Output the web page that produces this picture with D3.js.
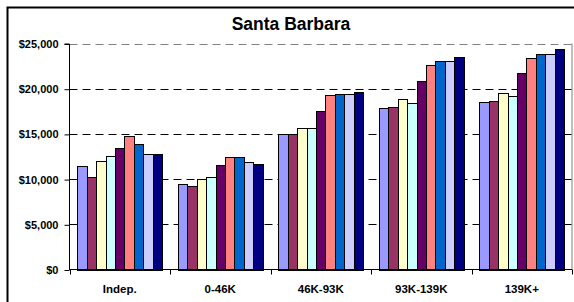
<!DOCTYPE html>
<html><head><meta charset="utf-8">
<script src="https://cdn.jsdelivr.net/npm/d3@7"></script>
<style>body{margin:0;background:#fff}svg{display:block}</style>
</head><body><svg id="c" width="574" height="302"></svg>
<script>
const categories = ["Indep.", "0-46K", "46K-93K", "93K-139K", "139K+"];
const s1 = [11500, 9450, 15020, 17860, 18530];
const s2 = [10250, 9200, 15020, 17970, 18640];
const s3 = [12000, 10000, 15620, 18830, 19490];
const s4 = [12550, 10260, 15650, 18450, 19190];
const s5 = [13400, 11520, 17530, 20850, 21740];
const s6 = [14730, 12410, 19300, 22620, 23430];
const s7 = [13920, 12410, 19380, 23030, 23870];
const s8 = [12740, 11860, 19380, 23060, 23870];
const s9 = [12740, 11640, 19670, 23500, 24390];
const seriesValues = [s1, s2, s3, s4, s5, s6, s7, s8, s9];
const colors = ["#9999FF", "#993366", "#FFFFCC", "#CCFFFF", "#660066", "#FF8080", "#0066CC", "#CCCCFF", "#000080"];
const yTicks = [0, 5000, 10000, 15000, 20000, 25000];
const title = "Santa Barbara";

const svg = d3.select("#c");
const L = 69.5, R = 572, T = 43.5, B = 269.5;

// outer border
svg.append("path").attr("d", `M7.5,302 V7.5 H574`).attr("fill", "none").attr("stroke", "#000").attr("stroke-width", 2);

svg.append("text").attr("x", 291).attr("y", 30).attr("text-anchor", "middle")
  .attr("font-family", "Liberation Sans, Arial, sans-serif").attr("font-weight", "bold").attr("font-size", 17.5)
  .text(title);

const x = d3.scaleBand().domain(categories).range([L, R]).paddingInner(0).paddingOuter(0);
const xi = d3.scaleBand().domain(d3.range(9)).range([x.bandwidth() * 0.075, x.bandwidth() * 0.925]).padding(0);
const y = d3.scaleLinear().domain([0, 25000]).range([B, T]);

// plot border right (gray)
svg.append("line").attr("x1", R).attr("x2", R).attr("y1", T).attr("y2", B).attr("stroke", "#808080").attr("stroke-width", 1);
// gridlines
yTicks.filter(d => d > 0).forEach(d => {
  svg.append("line").attr("x1", L).attr("x2", R).attr("y1", Math.round(y(d)) + 0.5).attr("y2", Math.round(y(d)) + 0.5)
    .attr("stroke", d === 25000 ? "#808080" : "#000").attr("stroke-width", 1).attr("stroke-dasharray", "8,5");
});

// bars
categories.forEach((c, ci) => {
  seriesValues.forEach((vals, si) => {
    const x0 = Math.round(x(c) + xi(si));
    const x1 = Math.round(x(c) + xi(si) + xi.bandwidth());
    const yt = Math.round(y(vals[ci]));
    svg.append("rect").attr("x", x0 + 0.5).attr("y", yt + 0.5)
      .attr("width", x1 - x0).attr("height", Math.round(y(0)) - yt)
      .attr("fill", colors[si]).attr("stroke", "#000").attr("stroke-width", 1);
  });
});

// y axis
const yAxis = d3.axisLeft(y).tickValues(yTicks).tickSize(5).tickPadding(6)
  .tickFormat(d => "$" + d3.format(",")(d));
const ga = svg.append("g").attr("transform", `translate(${L},0.5)`).call(yAxis);
ga.select(".domain").attr("stroke", "#000").attr("d", `M-5,${T}H0V${B}`);
ga.selectAll("text").attr("font-family", "Liberation Sans, Arial, sans-serif").attr("font-weight", "bold").attr("font-size", 11).attr("fill", "#000");

// x axis
const gx = svg.append("g").attr("transform", `translate(0,${B})`);
gx.append("line").attr("x1", L).attr("x2", R).attr("y1", 0).attr("y2", 0).attr("stroke", "#000");
categories.concat([null]).forEach((c, i) => {
  const xx = c === null ? R : x(c);
  gx.append("line").attr("x1", Math.round(xx) + 0.5).attr("x2", Math.round(xx) + 0.5).attr("y1", 0).attr("y2", 5).attr("stroke", "#000");
});
categories.forEach(c => {
  gx.append("text").attr("x", x(c) + x.bandwidth() / 2).attr("y", 23).attr("text-anchor", "middle")
    .attr("font-family", "Liberation Sans, Arial, sans-serif").attr("font-weight", "bold").attr("font-size", 11.5)
    .text(c);
});
</script></body></html>
